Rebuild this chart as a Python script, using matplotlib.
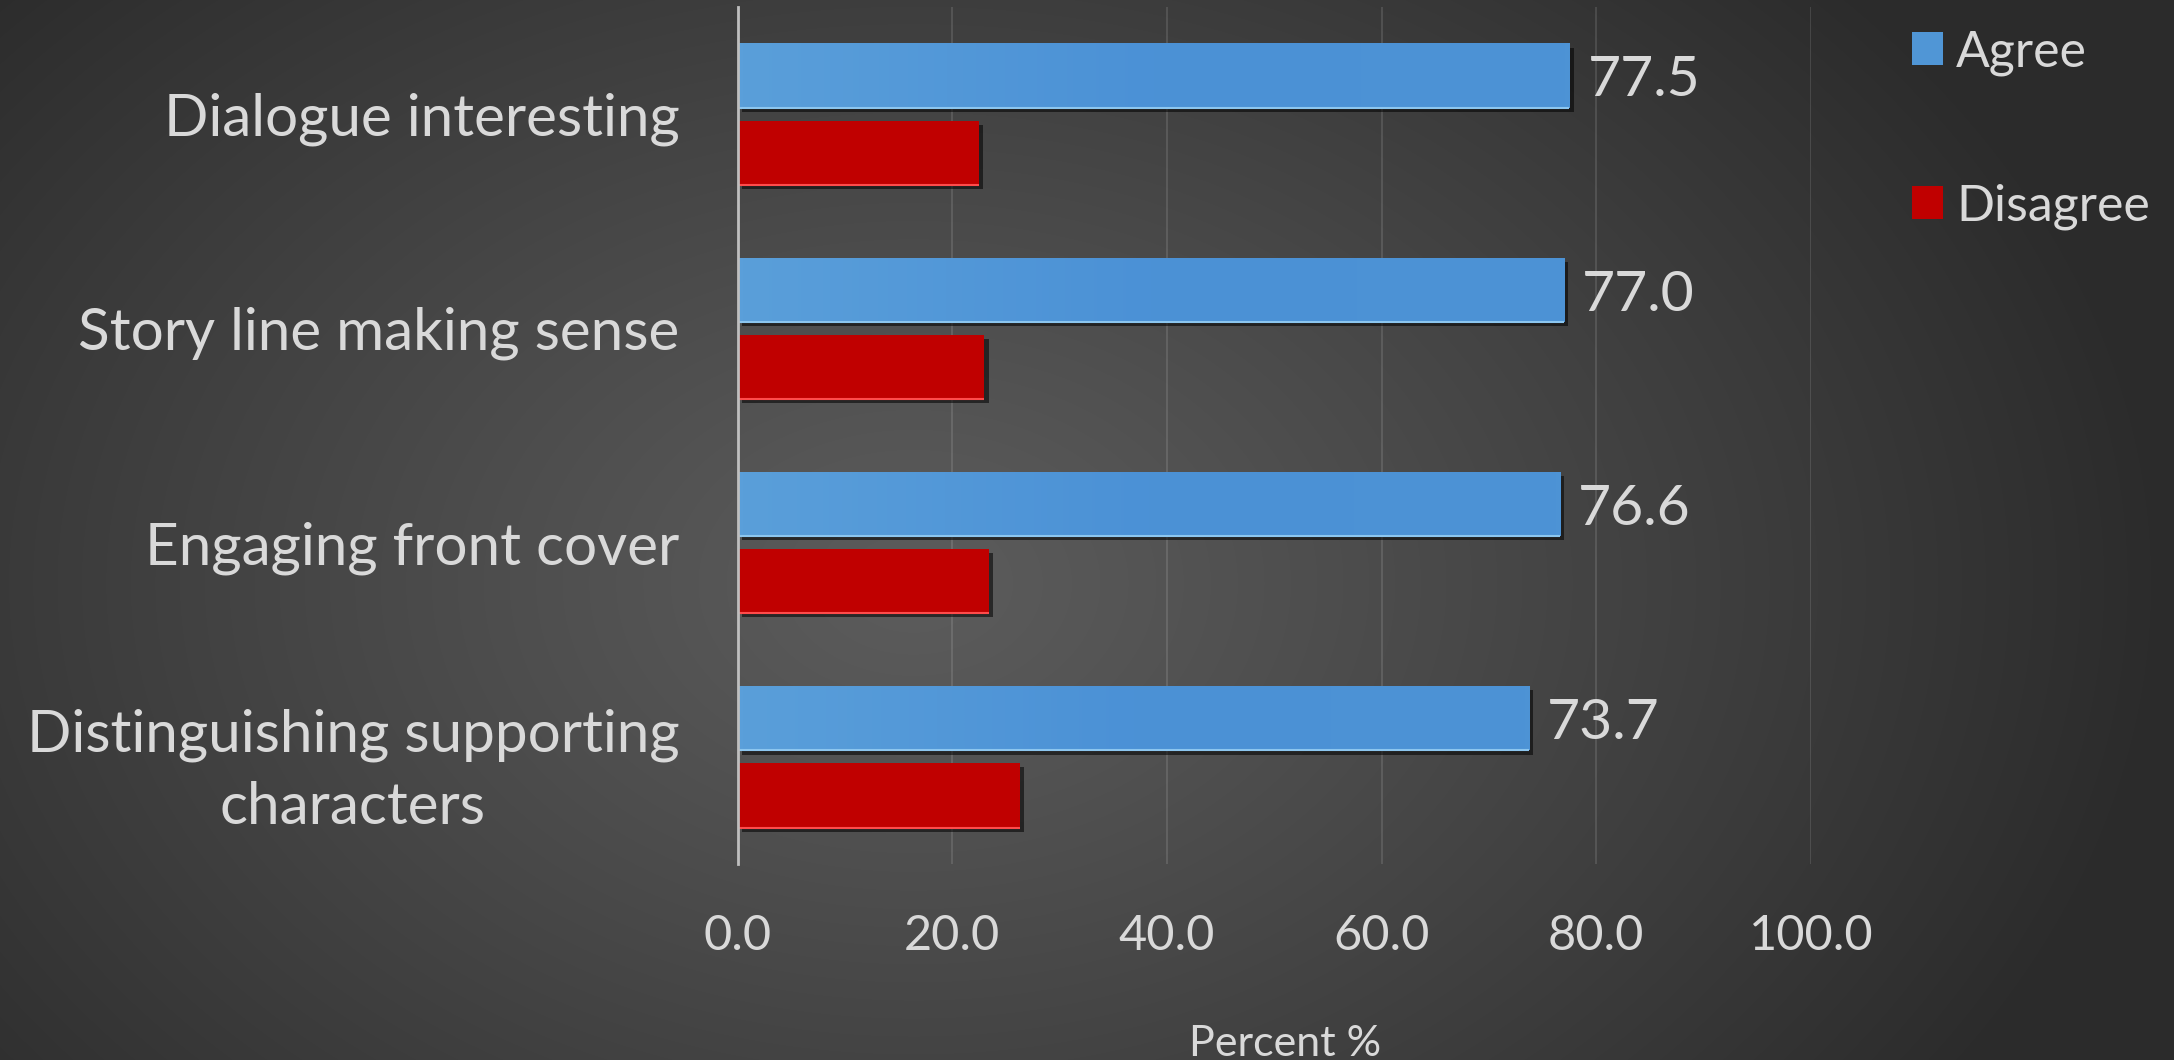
import numpy as np
import matplotlib
matplotlib.use("Agg")
import matplotlib.pyplot as plt
from matplotlib import patheffects as pe
from matplotlib.patches import Patch

# Survey results (percent)
categories = ["Dialogue interesting", "Story line making sense",
              "Engaging front cover", "Distinguishing supporting\ncharacters"]
agree = [77.5, 77.0, 76.6, 73.7]
disagree = [22.5, 23.0, 23.4, 26.3]
x_ticks = [0, 20, 40, 60, 80, 100]
series_names = ["Agree", "Disagree"]

FONT = "Lato"
TEXT = "#d9d9d9"
BLUE = "#5096d6"
RED = "#c00000"

W, H, DPI = 2174, 1060, 100
fig = plt.figure(figsize=(W / DPI, H / DPI), dpi=DPI)

# Radial background shading
bg = fig.add_axes([0, 0, 1, 1], zorder=-10)
yy, xx = np.mgrid[0:H, 0:W]
cx, cy = 0.42 * W, 0.55 * H
d = np.sqrt(((xx - cx) / (0.58 * W)) ** 2 + ((yy - cy) / (0.85 * H)) ** 2)
t = np.clip(d, 0, 1) ** 1.1
light, dark = 92 / 255, 43 / 255
g = light - (light - dark) * t
bg.imshow(np.dstack([g, g, g]), aspect="auto", extent=[0, 1, 0, 1], origin="upper")
bg.set_axis_off()

ax = fig.add_axes([0.3393, 0.1849, 0.4937, 0.8085])
ax.set_facecolor("none")

n = len(categories)
y = np.arange(n)
h = 0.30
off = 0.18
shadow = [pe.SimplePatchShadow(offset=(3, -3), shadow_rgbFace="black", alpha=0.55), pe.Normal()]

bars_a = ax.barh(y - off, agree, height=h, color=BLUE, edgecolor="none", zorder=3,
                 path_effects=shadow)
bars_d = ax.barh(y + off, disagree, height=h, color=RED, edgecolor="none", zorder=3,
                 path_effects=shadow)

# Horizontal sheen on the blue bars
grad = np.linspace(0, 1, 256)[None, :]
cmap = matplotlib.colors.LinearSegmentedColormap.from_list("sheen", ["#5a9fda", "#4b91d6", "#4d93d5"])
for b in bars_a:
    x0, y0, w, hh = b.get_x(), b.get_y(), b.get_width(), b.get_height()
    im = ax.imshow(grad, cmap=cmap, aspect="auto", extent=[x0, x0 + w, y0 + hh, y0],
                   zorder=3.5, interpolation="bicubic")
    im.set_clip_path(b)

# Bright lower edges
for b, c in [(bb, "#8cc6ef") for bb in bars_a] + [(bb, "#ff4b4b") for bb in bars_d]:
    ax.plot([b.get_x(), b.get_x() + b.get_width()], [b.get_y() + b.get_height()] * 2,
            color=c, lw=1.5, zorder=4, solid_capstyle="butt")

for yi, v in zip(y - off, agree):
    ax.text(v + 1.7, yi + 0.025, f"{v:.1f}", va="center", ha="left", color=TEXT,
            fontsize=41, family=FONT, zorder=5)

ax.set_xlim(0, 100)
ax.set_ylim(n - 0.5, -0.5)
ax.set_xticks(x_ticks)
ax.set_xticklabels([f"{v:.1f}" for v in x_ticks], fontsize=35, family=FONT, color=TEXT)
ax.set_yticks(y)
ax.set_yticklabels(categories, fontsize=42, family=FONT, color=TEXT,
                   multialignment="center", linespacing=1.45)
ax.tick_params(axis="x", length=0, pad=36)
ax.tick_params(axis="y", length=0, pad=42)
ax.set_xlabel("Percent %", fontsize=31, family=FONT, color=TEXT, labelpad=48)
ax.xaxis.label.set_x(0.51)

ax.grid(axis="x", color="#ffffff", alpha=0.13, lw=1.3, zorder=0)
ax.set_axisbelow(True)
for s in ["top", "right", "bottom"]:
    ax.spines[s].set_visible(False)
ax.spines["left"].set_color("#bfbfbf")
ax.spines["left"].set_linewidth(2)
ax.spines["left"].set_zorder(6)

handles = [Patch(facecolor=BLUE, edgecolor="none"), Patch(facecolor=RED, edgecolor="none")]
leg = fig.legend(handles, series_names, loc="upper left", bbox_to_anchor=(0.859, 1.015),
                 frameon=False, handlelength=0.62, handleheight=0.62,
                 handletextpad=0.25, labelspacing=2.15, prop={"family": FONT, "size": 36})
for tx in leg.get_texts():
    tx.set_color(TEXT)

fig.savefig("out.png", dpi=DPI)
